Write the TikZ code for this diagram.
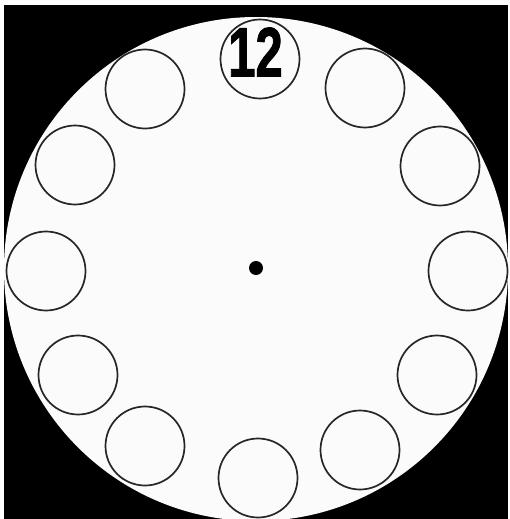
\documentclass[tikz,border=0pt]{standalone}
\usepackage{fontspec}
\setmainfont{Liberation Sans}
\newfontfamily\twelvefont[FakeBold=1.5]{Liberation Sans Bold}
\begin{document}
\begin{tikzpicture}[x=1pt,y=-1pt,
  hole/.style={circle,draw=black!85,line width=1.7pt,minimum size=79pt,inner sep=0pt},
  face/.style={fill=white!97!gray}]
\useasboundingbox (0,0) rectangle (509,519);
\fill[white] (0,0) rectangle (509,519);
\fill[black] (4,5) rectangle (508,519);
\begin{scope}
\clip (4,5) rectangle (508,519);
\fill[face] (256,269) circle (252);
\end{scope}
\node[hole] (h12) at (260,59) {};
\node[hole] (h1) at (365,88) {};
\node[hole] (h2) at (440,166) {};
\node[hole] (h3) at (468,271) {};
\node[hole] (h4) at (437,375) {};
\node[hole] (h5) at (360,450) {};
\node[hole] (h6) at (258,478) {};
\node[hole] (h7) at (145,446) {};
\node[hole] (h8) at (78,375) {};
\node[hole] (h9) at (46,271) {};
\node[hole] (h10) at (75,165) {};
\node[hole] (h11) at (145,89) {};
\fill[black] (256,268) circle (7) coordinate (hub);
\node[inner sep=0pt] (twelve) at (255.5,52) {\scalebox{0.7}[1]{\fontsize{70}{70}\twelvefont 12}};
\end{tikzpicture}
\end{document}
